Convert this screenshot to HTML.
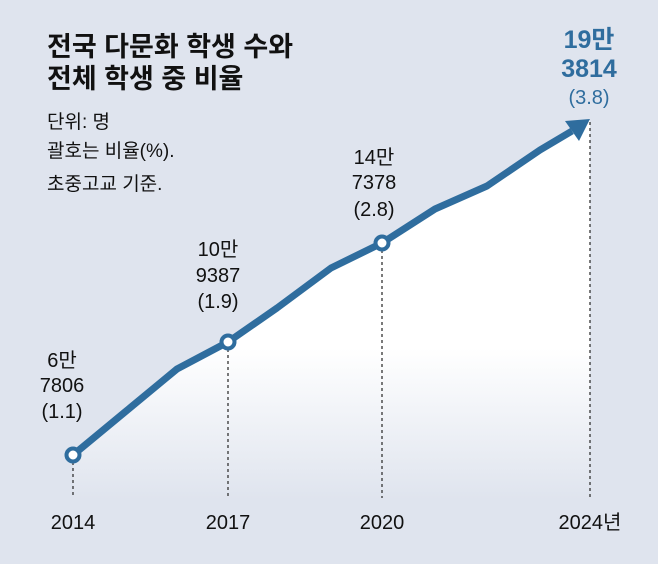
<!DOCTYPE html>
<html><head><meta charset="utf-8"><style>
body{margin:0;width:658px;height:559px;overflow:hidden;background:#dfe4ee;font-family:"Liberation Sans","Noto Sans CJK KR",sans-serif;}
</style></head><body>
<svg width="658" height="559" viewBox="0 0 658 559" xmlns="http://www.w3.org/2000/svg" style="font-family:'Liberation Sans','Noto Sans CJK KR',sans-serif">
<defs>
<linearGradient id="g" x1="0" y1="120" x2="0" y2="500" gradientUnits="userSpaceOnUse">
<stop offset="0" stop-color="#ffffff"/>
<stop offset="0.6" stop-color="#ffffff"/>
<stop offset="1" stop-color="#dfe4ee"/>
</linearGradient>
</defs>
<rect width="658" height="559" fill="#dfe4ee"/>
<polygon points="73,455 125,412 177,369 228,342 277,308 331,268 382,243 435,209 487,186 540,150 590,120 590,500 73,500" fill="url(#g)"/>
<g stroke="#333" stroke-width="1.3" stroke-dasharray="3,3">
<line x1="73" y1="462" x2="73" y2="498"/>
<line x1="228" y1="349" x2="228" y2="498"/>
<line x1="382" y1="250" x2="382" y2="498"/>
<line x1="590" y1="122" x2="590" y2="498"/>
</g>
<polyline points="73,455 125,412 177,369 228,342 277,308 331,268 382,243 435,209 487,186 540,150 572,131" fill="none" stroke="#2f6d9e" stroke-width="7" stroke-linejoin="round"/>
<polygon points="590,119 565,121 579,141" fill="#2f6d9e"/>
<g fill="#fff" stroke="#2f6d9e" stroke-width="4">
<circle cx="73" cy="455" r="6.5"/><circle cx="228" cy="342" r="6.5"/><circle cx="382" cy="243" r="6.5"/>
</g>
<g font-size="27" font-weight="bold" fill="#111">
<text x="47" y="56">전국 다문화 학생 수와</text>
<text x="47" y="88">전체 학생 중 비율</text>
</g>
<g font-size="19" fill="#111">
<text x="47" y="128">단위: 명</text>
<text x="47" y="157">괄호는 비율(%).</text>
<text x="47" y="190">초중고교 기준.</text>
</g>
<g font-size="20" fill="#111" text-anchor="middle">
<text x="62" y="367">6만</text><text x="62" y="392">7806</text><text x="62" y="418">(1.1)</text>
<text x="218" y="256">10만</text><text x="218" y="282">9387</text><text x="218" y="308">(1.9)</text>
<text x="374" y="164">14만</text><text x="374" y="189">7378</text><text x="374" y="216">(2.8)</text>
<text x="73" y="529">2014</text><text x="228" y="529">2017</text><text x="382" y="529">2020</text><text x="590" y="529">2024년</text>
</g>
<g font-size="25" font-weight="bold" fill="#2f6d9e" text-anchor="middle">
<text x="589" y="48">19만</text><text x="589" y="77">3814</text>
</g>
<text x="589" y="104" font-size="20" fill="#2f6d9e" text-anchor="middle">(3.8)</text>
</svg>
</body></html>
